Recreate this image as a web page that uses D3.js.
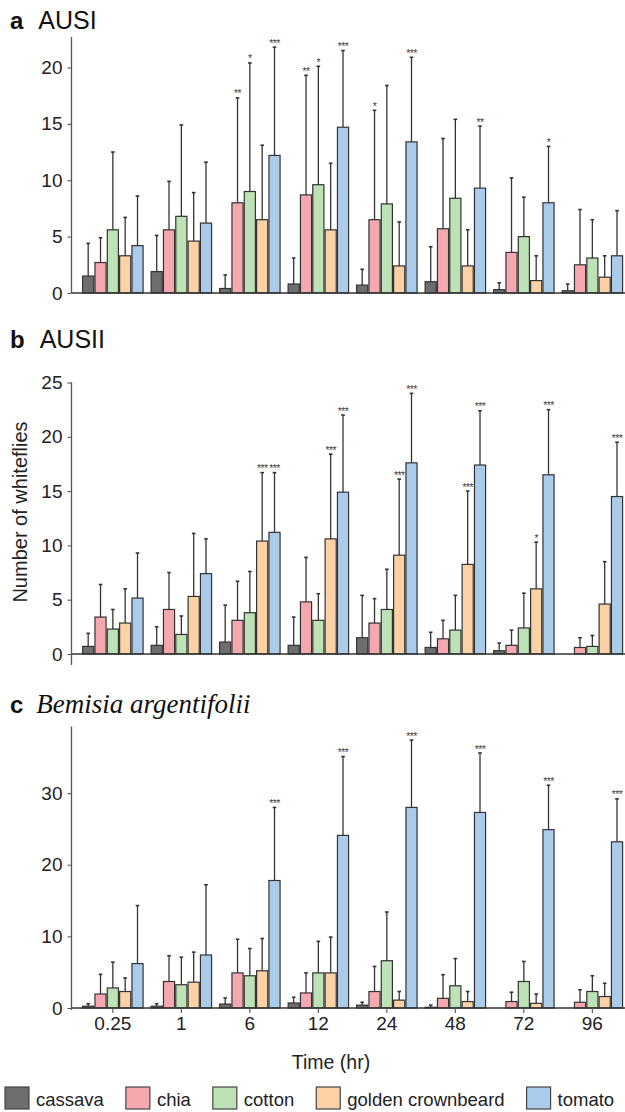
<!DOCTYPE html>
<html>
<head>
<meta charset="utf-8">
<script src="https://cdn.jsdelivr.net/npm/d3@7"></script>
<style>
  html, body { margin: 0; padding: 0; background: #fff; }
  svg { display: block; }
  text { font-family: "Liberation Sans", Arial, Helvetica, sans-serif; }
</style>
</head>
<body>
<svg id="chart" width="625" height="1112"></svg>
<script>
// ---------------- data ----------------
const times = ["0.25", "1", "6", "12", "24", "48", "72", "96"];
const plants = ["cassava", "chia", "cotton", "golden crownbeard", "tomato"];
const plantColors = ["#6e6e6e", "#f5a9af", "#bde2b5", "#fcd1a6", "#abcbea"];

// Panel a: AUSI (rows = time, columns = plants)
const ausiMean = [
  [1.5, 2.7, 5.6, 3.3, 4.2],
  [1.9, 5.6, 6.8, 4.6, 6.2],
  [0.4, 8.0, 9.0, 6.5, 12.2],
  [0.8, 8.7, 9.6, 5.6, 14.7],
  [0.7, 6.5, 7.9, 2.4, 13.4],
  [1.0, 5.7, 8.4, 2.4, 9.3],
  [0.3, 3.6, 5.0, 1.1, 8.0],
  [0.2, 2.5, 3.1, 1.4, 3.3]
];
const ausiSD = [
  [2.9, 2.2, 6.9, 3.4, 4.4],
  [3.2, 4.3, 8.1, 4.3, 5.4],
  [1.2, 9.3, 11.4, 6.6, 9.6],
  [2.3, 10.6, 10.5, 5.9, 6.8],
  [1.4, 9.7, 10.5, 3.9, 7.5],
  [3.1, 8.0, 7.0, 3.2, 5.5],
  [0.6, 6.6, 3.5, 2.2, 5.0],
  [0.6, 4.9, 3.4, 1.9, 4.0]
];
const ausiSig = [
  ["", "", "", "", ""],
  ["", "", "", "", ""],
  ["", "**", "*", "", "***"],
  ["", "**", "*", "", "***"],
  ["", "*", "", "", "***"],
  ["", "", "", "", "**"],
  ["", "", "", "", "*"],
  ["", "", "", "", ""]
];

// Panel b: AUSII
const ausiiMean = [
  [0.7, 3.4, 2.3, 2.85, 5.15],
  [0.8, 4.1, 1.8, 5.3, 7.4],
  [1.1, 3.1, 3.8, 10.4, 11.2],
  [0.8, 4.8, 3.1, 10.6, 14.9],
  [1.5, 2.85, 4.1, 9.1, 17.6],
  [0.6, 1.4, 2.2, 8.25, 17.4],
  [0.3, 0.8, 2.4, 6.0, 16.5],
  [0.0, 0.6, 0.7, 4.6, 14.5]
];
const ausiiSD = [
  [1.2, 3.0, 1.8, 3.15, 4.15],
  [1.7, 3.4, 1.7, 5.8, 3.2],
  [3.4, 3.6, 3.8, 6.3, 5.5],
  [2.6, 4.1, 2.45, 7.8, 7.1],
  [3.9, 2.25, 3.7, 7.0, 6.4],
  [1.4, 1.7, 3.2, 6.75, 5.0],
  [0.7, 1.4, 3.2, 4.3, 6.0],
  [0.0, 0.9, 1.0, 3.9, 5.0]
];
const ausiiSig = [
  ["", "", "", "", ""],
  ["", "", "", "", ""],
  ["", "", "", "***", "***"],
  ["", "", "", "***", "***"],
  ["", "", "", "***", "***"],
  ["", "", "", "***", "***"],
  ["", "", "", "*", "***"],
  ["", "", "", "", "***"]
];

// Panel c: Bemisia argentifolii
const bargMean = [
  [0.25, 1.95, 2.8, 2.3, 6.2],
  [0.25, 3.7, 3.25, 3.6, 7.4],
  [0.55, 4.9, 4.5, 5.2, 17.8],
  [0.7, 2.1, 4.9, 4.9, 24.1],
  [0.4, 2.3, 6.6, 1.1, 28.0],
  [0.1, 1.35, 3.1, 0.9, 27.3],
  [0.0, 0.9, 3.7, 0.65, 24.9],
  [0.0, 0.8, 2.3, 1.6, 23.2]
];
const bargSD = [
  [0.35, 2.75, 3.6, 1.9, 8.1],
  [0.35, 3.6, 3.85, 4.2, 9.8],
  [0.85, 4.7, 3.8, 4.5, 10.2],
  [0.8, 2.8, 4.4, 5.0, 11.0],
  [0.4, 3.5, 6.8, 1.2, 9.4],
  [0.3, 3.3, 3.8, 1.4, 8.3],
  [0.0, 1.3, 2.8, 1.3, 6.2],
  [0.0, 1.75, 2.2, 1.85, 6.0]
];
const bargSig = [
  ["", "", "", "", ""],
  ["", "", "", "", ""],
  ["", "", "", "", "***"],
  ["", "", "", "", "***"],
  ["", "", "", "", "***"],
  ["", "", "", "", "***"],
  ["", "", "", "", "***"],
  ["", "", "", "", "***"]
];

const yTicksA = [0, 5, 10, 15, 20];
const yTicksB = [0, 5, 10, 15, 20, 25];
const yTicksC = [0, 10, 20, 30];

// ---------------- layout ----------------
const svg = d3.select("#chart");
const axisX = 71.5;
const ink = "#333";

const x0 = d3.scaleBand().domain(times).range([78.6, 626.6]).paddingInner(0.1).paddingOuter(0.05);
const x1 = d3.scaleBand().domain(plants).range([0, x0.bandwidth()]).padding(0);
const color = d3.scaleOrdinal().domain(plants).range(plantColors);

const panels = [
  { letter: "a", title: "AUSI", italic: false, mean: ausiMean, sd: ausiSD, sig: ausiSig,
    domain: [0, 22.7], range: [293, 37], ticks: yTicksA, titleY: 29, axisBottom: 293, xLabels: false },
  { letter: "b", title: "AUSII", italic: false, mean: ausiiMean, sd: ausiiSD, sig: ausiiSig,
    domain: [0, 25], range: [654, 382.5], ticks: yTicksB, titleY: 348, axisBottom: 665, xLabels: false },
  { letter: "c", title: "Bemisia argentifolii", italic: true, mean: bargMean, sd: bargSD, sig: bargSig,
    domain: [0, 39.3], range: [1008, 726.5], ticks: yTicksC, titleY: 713, axisBottom: 1010, xLabels: true }
];

panels.forEach(p => {
  const y = d3.scaleLinear().domain(p.domain).range(p.range);
  const g = svg.append("g");

  // title
  const t = g.append("text").attr("x", 10).attr("y", p.titleY).attr("fill", "#111");
  t.append("tspan").text(p.letter).attr("font-weight", "bold").attr("font-size", 24);
  const tt = t.append("tspan").attr("dx", p.italic ? 13 : 15).text(p.title);
  if (p.italic) {
    tt.attr("font-family", "'Liberation Serif', 'Times New Roman', serif")
      .attr("font-style", "italic").attr("font-size", 27);
  } else {
    tt.attr("font-size", 25);
  }

  // bars
  const groups = g.append("g").selectAll("g")
    .data(times.map((tm, i) => ({ tm, i })))
    .join("g")
    .attr("transform", d => `translate(${x0(d.tm)},0)`);

  const items = groups.selectAll("g.item")
    .data(d => plants.map((pl, j) => ({
      pl, mean: p.mean[d.i][j], sd: p.sd[d.i][j], sig: p.sig[d.i][j]
    })))
    .join("g").attr("class", "item");

  items.filter(d => d.sd > 0).append("line")
    .attr("x1", d => x1(d.pl) + x1.bandwidth() / 2)
    .attr("x2", d => x1(d.pl) + x1.bandwidth() / 2)
    .attr("y1", d => y(d.mean))
    .attr("y2", d => y(d.mean + d.sd))
    .attr("stroke", ink).attr("stroke-width", 1.3);
  items.filter(d => d.sd > 0).append("line")
    .attr("x1", d => x1(d.pl) + x1.bandwidth() / 2 - 1.8)
    .attr("x2", d => x1(d.pl) + x1.bandwidth() / 2 + 1.8)
    .attr("y1", d => y(d.mean + d.sd))
    .attr("y2", d => y(d.mean + d.sd))
    .attr("stroke", ink).attr("stroke-width", 1.6);

  items.append("rect")
    .attr("x", d => x1(d.pl) + 0.6)
    .attr("width", x1.bandwidth() - 1.2)
    .attr("y", d => y(d.mean))
    .attr("height", d => y(0) - y(d.mean))
    .attr("fill", d => color(d.pl))
    .attr("stroke", ink).attr("stroke-width", 1.2);

  items.filter(d => d.sig).append("text")
    .attr("x", d => x1(d.pl) + x1.bandwidth() / 2)
    .attr("y", d => y(d.mean + d.sd) - 0.5)
    .attr("text-anchor", "middle")
    .attr("font-size", 10.5)
    .attr("letter-spacing", -0.6)
    .attr("fill", "#444")
    .text(d => d.sig);

  // baseline
  g.append("line")
    .attr("x1", axisX).attr("x2", 625)
    .attr("y1", y(0)).attr("y2", y(0))
    .attr("stroke", ink).attr("stroke-width", 1.6);

  // y axis
  const yAxis = d3.axisLeft(y).tickValues(p.ticks).tickSize(4).tickPadding(5).tickSizeOuter(0);
  const ya = g.append("g").attr("transform", `translate(${axisX},0)`).call(yAxis);
  ya.select(".domain").remove();
  ya.selectAll(".tick line").attr("stroke", "#555").attr("stroke-width", 1.1);
  ya.selectAll(".tick text").attr("font-size", 19).attr("fill", "#222")
    .attr("font-family", "'Liberation Sans', Arial, sans-serif");
  g.append("line")
    .attr("x1", axisX).attr("x2", axisX)
    .attr("y1", p.range[1]).attr("y2", p.axisBottom)
    .attr("stroke", "#555").attr("stroke-width", 1.3);

  if (p.xLabels) {
    const xAxis = d3.axisBottom(x0).tickSize(5).tickPadding(4).tickSizeOuter(0);
    const xa = g.append("g").attr("transform", `translate(0,${y(0)})`).call(xAxis);
    xa.select(".domain").remove();
    xa.selectAll(".tick line").attr("stroke", "#555").attr("stroke-width", 1.1);
    xa.selectAll(".tick text").attr("font-size", 19).attr("fill", "#222")
      .attr("font-family", "'Liberation Sans', Arial, sans-serif");
  }
});

// y-axis title
svg.append("text")
  .attr("transform", "translate(27,512) rotate(-90)")
  .attr("text-anchor", "middle")
  .attr("font-size", 20)
  .attr("fill", "#222")
  .text("Number of whiteflies");

// x-axis title
svg.append("text")
  .attr("x", 331).attr("y", 1069)
  .attr("text-anchor", "middle")
  .attr("font-size", 19.5)
  .attr("fill", "#222")
  .text("Time (hr)");

// legend
const leg = svg.append("g").attr("transform", "translate(0,1087)");
let lx = 5;
plants.forEach((pl, j) => {
  leg.append("rect")
    .attr("x", lx).attr("y", 0).attr("width", 24).attr("height", 22)
    .attr("fill", plantColors[j]).attr("stroke", "#444").attr("stroke-width", 1.2);
  const tx = leg.append("text")
    .attr("x", lx + 31).attr("y", 19)
    .attr("font-size", 18.5).attr("fill", "#222").text(pl);
  lx += 31 + tx.node().getComputedTextLength() + 22;
});
</script>
</body>
</html>
